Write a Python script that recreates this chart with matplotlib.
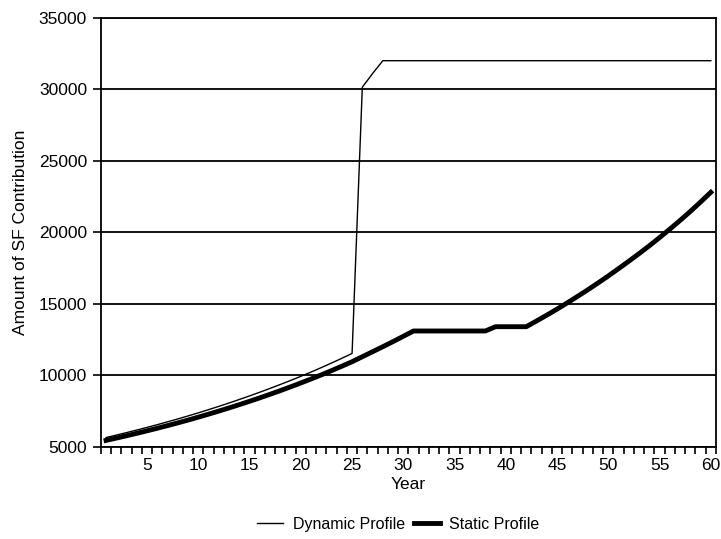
import matplotlib.pyplot as plt
from matplotlib.ticker import FixedLocator

plt.rcParams['font.family'] = ['Liberation Sans', 'DejaVu Sans']

years = list(range(1, 61))

# SF contribution per year
dynamic = [5650, 5820, 5995, 6175, 6360, 6550, 6750, 6950, 7160, 7375,
           7600, 7830, 8065, 8310, 8560, 8820, 9085, 9360, 9640, 9930,
           10230, 10540, 10860, 11190, 11530, 30150, 31100, 32000, 32000, 32000,
           32000, 32000, 32000, 32000, 32000, 32000, 32000, 32000, 32000, 32000,
           32000, 32000, 32000, 32000, 32000, 32000, 32000, 32000, 32000, 32000,
           32000, 32000, 32000, 32000, 32000, 32000, 32000, 32000, 32000, 32000]
static = [5450, 5610, 5775, 5945, 6120, 6300, 6485, 6675, 6870, 7075,
          7285, 7500, 7720, 7950, 8185, 8425, 8675, 8930, 9195, 9465,
          9745, 10030, 10330, 10635, 10950, 11300, 11650, 12000, 12360, 12730,
          13100, 13100, 13100, 13100, 13100, 13100, 13100, 13100, 13400, 13400,
          13400, 13400, 13800, 14210, 14630, 15070, 15520, 15980, 16460, 16950,
          17460, 17980, 18510, 19060, 19630, 20220, 20830, 21460, 22120, 22800]

x_labels = [5, 10, 15, 20, 25, 30, 35, 40, 45, 50, 55, 60]
y_ticks = [5000, 10000, 15000, 20000, 25000, 30000, 35000]

fig = plt.figure(figsize=(7.21, 5.39), dpi=100)
ax = fig.add_axes([0.140, 0.171, 0.853, 0.796])

# horizontal gridlines
for v in y_ticks:
    ax.axhline(v, color='black', lw=1.3, zorder=1)

ax.plot(years, dynamic, color='black', lw=1.0, label='Dynamic Profile', zorder=3)
ax.plot(years, static, color='black', lw=3.5, label='Static Profile', zorder=3)

ax.set_xlim(0.5, 60.5)
ax.set_ylim(5000, 35000)
ax.set_yticks(y_ticks)
ax.set_xticks(x_labels)
ax.set_xticklabels([str(v) for v in x_labels])
ax.tick_params(axis='x', length=0, labelsize=12.5, pad=8)
ax.xaxis.set_minor_locator(FixedLocator([k + 0.5 for k in range(0, 61)]))
ax.tick_params(axis='x', which='minor', length=5, width=1.2, direction='out')
ax.tick_params(axis='y', length=6, width=1.2, labelsize=12.5, pad=4)

for s in ax.spines.values():
    s.set_linewidth(1.3)

ax.set_xlabel('Year', fontsize=12.5, labelpad=3)
ax.set_ylabel('Amount of SF Contribution', fontsize=12.5, labelpad=8)

ax.legend(loc='upper center', bbox_to_anchor=(0.484, -0.13), ncol=2, frameon=False,
          fontsize=11.5, handlelength=1.6, columnspacing=0.6, handletextpad=0.6)

fig.savefig('out.png', dpi=100)
